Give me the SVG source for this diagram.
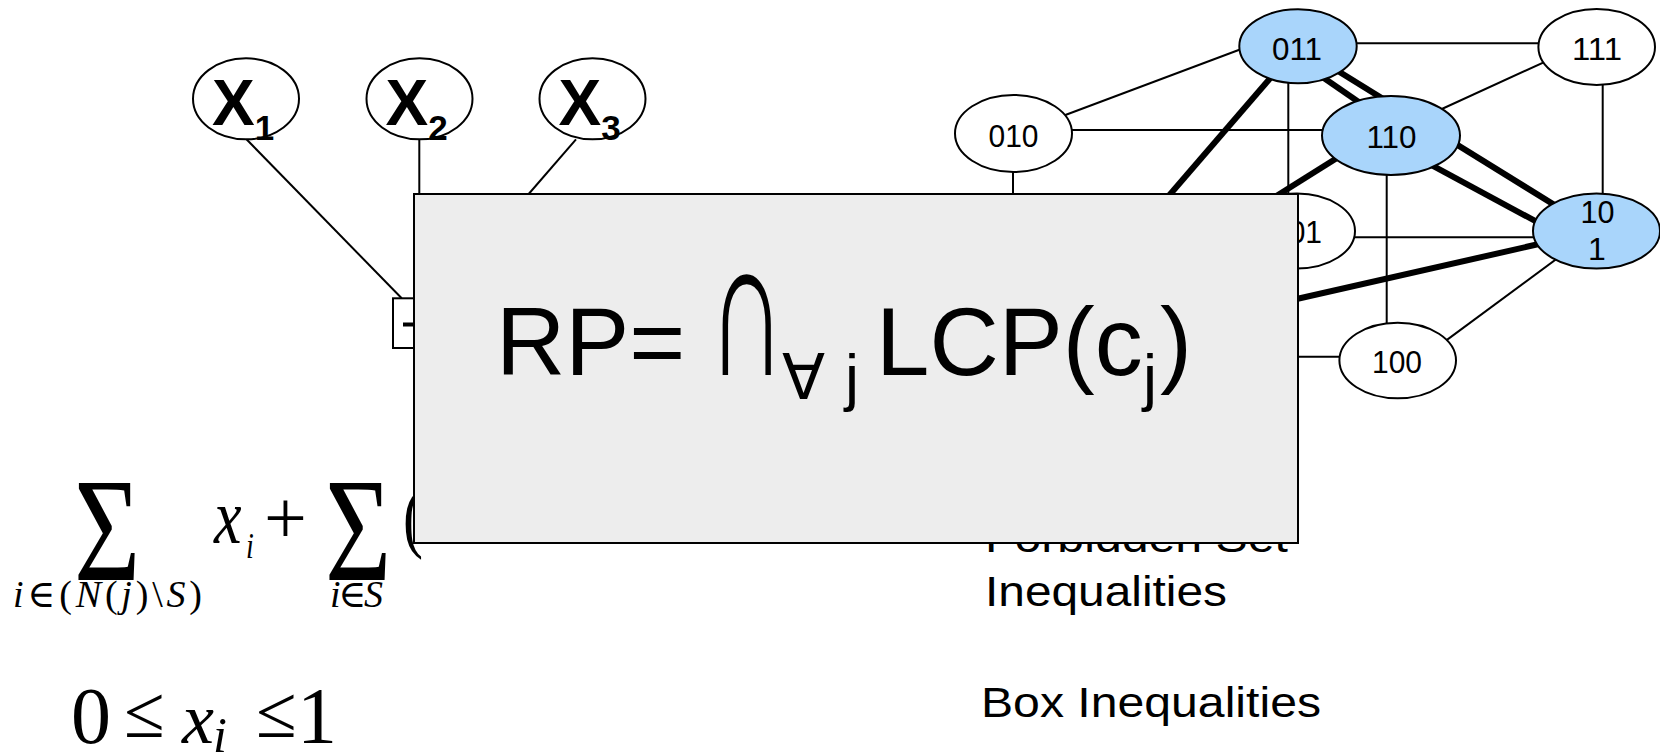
<svg xmlns="http://www.w3.org/2000/svg" width="1660" height="754" viewBox="0 0 1660 754">
<style>
.node{stroke:#000;stroke-width:2;fill:#fff}
.blue{fill:#a9d5fb}
.thin{stroke:#000;stroke-width:2;fill:none}
.thick{stroke:#000;stroke-width:6;fill:none}
.lbl{font-family:"Liberation Sans",Arial,sans-serif;font-size:32px;text-anchor:middle;fill:#000}
.xl{font-family:"Liberation Sans",Arial,sans-serif;font-weight:bold;fill:#000}
.math{font-family:"Liberation Serif","DejaVu Serif",serif;fill:#000}
.it{font-style:italic}
.side{font-family:"Liberation Sans",Arial,sans-serif;font-size:43px;fill:#000}
.rp{font-family:"Liberation Sans","DejaVu Sans",sans-serif;fill:#000}
</style>
<rect width="1660" height="754" fill="#fff"/>

<g id="connectors">
  <line class="thin" x1="246.7" y1="139.5" x2="401.7" y2="298.3"/>
  <line class="thin" x1="419.3" y1="139" x2="419.3" y2="200"/>
  <line class="thin" x1="576" y1="139.3" x2="520" y2="204"/>
  <line class="thin" x1="1298" y1="43.3" x2="1597" y2="43.3"/>
  <line class="thin" x1="1040" y1="124.5" x2="1260" y2="42"/>
  <line class="thin" x1="1013" y1="130" x2="1391" y2="130"/>
  <line class="thin" x1="1420" y1="119" x2="1570" y2="50.3"/>
  <line class="thin" x1="1602.7" y1="47" x2="1602.7" y2="231"/>
  <line class="thin" x1="1288.3" y1="46" x2="1288.3" y2="231"/>
  <line class="thin" x1="1386.7" y1="135" x2="1386.7" y2="360"/>
  <line class="thin" x1="1297" y1="237.3" x2="1596" y2="237.3"/>
  <line class="thin" x1="1570" y1="249" x2="1430" y2="352.4"/>
  <line class="thin" x1="1290" y1="356.7" x2="1397" y2="356.7"/>
  <line class="thin" x1="1013" y1="133" x2="1013" y2="200"/>
  <line class="thick" x1="1298" y1="46.3" x2="1596.5" y2="231"/>
  <line class="thick" x1="1305" y1="65" x2="1375" y2="113.3"/>
  <line class="thick" x1="1420" y1="158.8" x2="1560" y2="234.4"/>
  <line class="thick" x1="1298" y1="46" x2="1160" y2="206"/>
  <line class="thick" x1="1380" y1="131" x2="1270" y2="200"/>
  <line class="thick" x1="1596.5" y1="231" x2="1290" y2="300.5"/>
</g>

<g id="x1">
  <ellipse class="node" cx="246" cy="98.8" rx="53" ry="40.5"/>
  <text class="xl" x="212" y="125" font-size="64">X<tspan font-size="35" dy="15">1</tspan></text>
</g>
<g id="x2">
  <ellipse class="node" cx="419.5" cy="98.8" rx="53" ry="40.5"/>
  <text class="xl" x="385.5" y="125" font-size="64">X<tspan font-size="35" dy="15">2</tspan></text>
</g>
<g id="x3">
  <ellipse class="node" cx="592.5" cy="98.8" rx="53" ry="40.5"/>
  <text class="xl" x="558.5" y="125" font-size="64">X<tspan font-size="35" dy="15">3</tspan></text>
</g>
<g id="factor">
  <rect x="393" y="298.3" width="30" height="49.7" fill="#fff" stroke="#000" stroke-width="2"/>
  <rect x="403" y="322.5" width="12" height="4" fill="#000"/>
</g>

<g id="n011">
  <ellipse class="node blue" cx="1298" cy="46.3" rx="58.7" ry="37"/>
  <text class="lbl" x="1297" y="60" textLength="50" lengthAdjust="spacingAndGlyphs">011</text>
</g>
<g id="n111">
  <ellipse class="node" cx="1596.7" cy="47" rx="58.3" ry="38"/>
  <text class="lbl" x="1597" y="60" textLength="50" lengthAdjust="spacingAndGlyphs">111</text>
</g>
<g id="n010">
  <ellipse class="node" cx="1013.5" cy="133.5" rx="58.5" ry="38.5"/>
  <text class="lbl" x="1013.5" y="146.7" textLength="50" lengthAdjust="spacingAndGlyphs">010</text>
</g>
<g id="n110">
  <ellipse class="node blue" cx="1391" cy="135.5" rx="69" ry="39.5"/>
  <text class="lbl" x="1391.5" y="148" textLength="50" lengthAdjust="spacingAndGlyphs">110</text>
</g>
<g id="n001">
  <ellipse class="node" cx="1297" cy="231" rx="58" ry="37.5"/>
  <text class="lbl" x="1297" y="243.3" textLength="50" lengthAdjust="spacingAndGlyphs">001</text>
</g>
<g id="n101">
  <ellipse class="node blue" cx="1596.5" cy="231" rx="63.5" ry="37.5"/>
  <text class="lbl" x="1597.5" y="223.3" textLength="34" lengthAdjust="spacingAndGlyphs">10</text>
  <text class="lbl" x="1597" y="260">1</text>
</g>
<g id="n100">
  <ellipse class="node" cx="1397.7" cy="360.5" rx="58.3" ry="37.8"/>
  <text class="lbl" x="1397" y="373.3" textLength="50" lengthAdjust="spacingAndGlyphs">100</text>
</g>

<g id="formula1">
  <text class="math" transform="translate(74,580) scale(1,1.31)" font-size="114">Σ</text>
  <text class="math" x="13" y="607" font-size="38" textLength="189" lengthAdjust="spacing"><tspan class="it">i</tspan>∈(<tspan class="it">N</tspan>(<tspan class="it">j</tspan>)\<tspan class="it">S</tspan>)</text>
  <text class="math it" transform="translate(214,543) scale(1,1.25)" font-size="62">x</text>
  <text class="math it" transform="translate(246,558) scale(1,1.3)" font-size="28">i</text>
  <text class="math" x="264" y="543" font-size="76">+</text>
  <text class="math" transform="translate(325,580) scale(1,1.31)" font-size="114">Σ</text>
  <text class="math" x="330" y="607" font-size="38" textLength="53" lengthAdjust="spacing"><tspan class="it">i</tspan>∈<tspan class="it">S</tspan></text>
  <text class="math" transform="translate(403,543) scale(1,1.3)" font-size="60">(</text>
</g>
<g id="formula2">
  <text class="math" x="71" y="743" font-size="80">0</text>
  <text class="math" x="124" y="737" font-size="74">≤</text>
  <text class="math it" x="182" y="743" font-size="72">x</text>
  <text class="math it" x="213" y="752" font-size="50">i</text>
  <text class="math" x="256" y="737" font-size="74">≤</text>
  <text class="math" x="297" y="743" font-size="80">1</text>
</g>

<g id="labels">
  <text class="side" x="985" y="552" textLength="303" lengthAdjust="spacingAndGlyphs">Forbidden Set</text>
  <text class="side" x="985" y="606" textLength="242" lengthAdjust="spacingAndGlyphs">Inequalities</text>
  <text class="side" x="981" y="717" textLength="340" lengthAdjust="spacingAndGlyphs">Box Inequalities</text>
</g>

<g id="rp-box">
  <rect x="414" y="194" width="884" height="349" fill="#ededed" stroke="#000" stroke-width="2"/>
  <text class="rp" x="496" y="375" font-size="96">RP=</text>
  <text class="rp" transform="translate(708,375) scale(1,1.85)" font-size="108">∩</text>
  <text class="rp" y="399" font-size="63"><tspan x="782">∀</tspan><tspan x="845">j</tspan></text>
  <text class="rp" y="375" font-size="96"><tspan x="876">LCP(c</tspan><tspan x="1143" y="399" font-size="63">j</tspan><tspan x="1160" y="375">)</tspan></text>
</g>
</svg>
